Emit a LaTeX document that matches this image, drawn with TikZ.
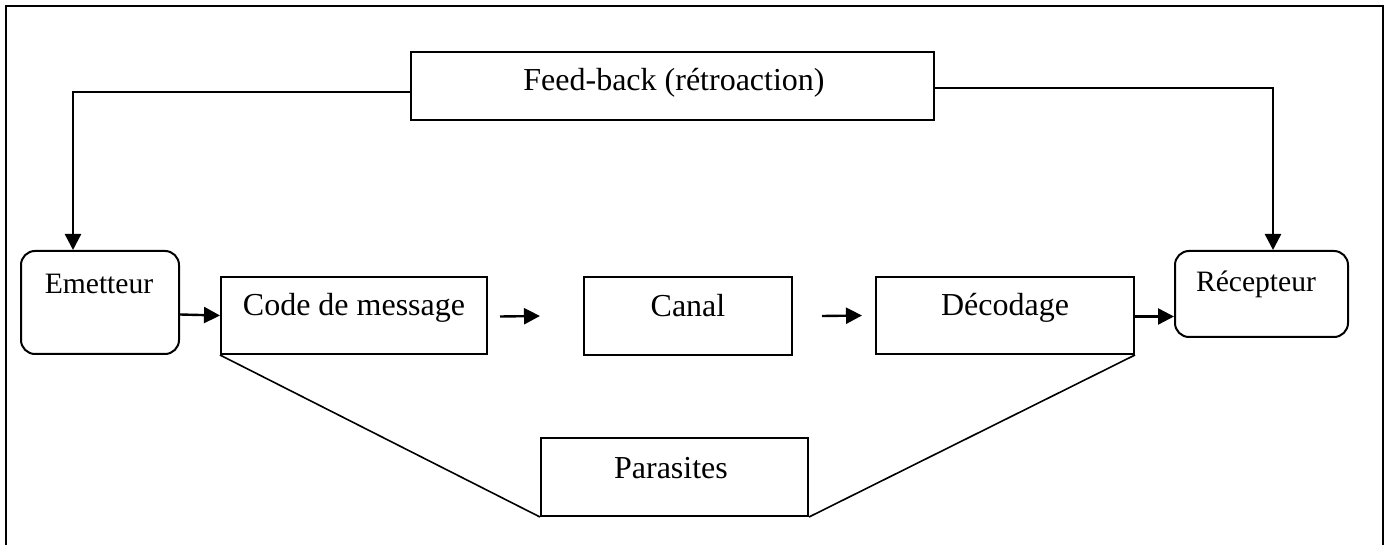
\documentclass[tikz,border=0pt]{standalone}
\usepackage{fontspec}
\setmainfont{Liberation Serif}
\usetikzlibrary{arrows.meta,calc}

\begin{document}
\begin{tikzpicture}[x=0.5pt,y=-0.5pt,
  box/.style={draw,line width=1pt,inner sep=0pt,rectangle},
  roundbox/.style={box,rounded corners=7pt},
  lbl/.style={anchor=base,inner sep=0pt,font=\fontsize{16}{19}\selectfont},
  lblsmall/.style={anchor=base,inner sep=0pt,font=\fontsize{14.8}{17}\selectfont},
  arr/.style={line width=1.2pt,-{Triangle[length=8pt,width=8pt]}},
  wire/.style={line width=0.8pt},
  frame/.style={line width=1.2pt}]

\useasboundingbox (0,0) rectangle (1389,545);

% open frame around the diagram
\draw[frame] (6,545) -- (6,6) -- (1383,6) -- (1383,545);

% boxes
\node[box,minimum width=261.5pt,minimum height=34pt] (fb) at (672.5,86) {};
\node[roundbox,minimum width=79pt,minimum height=51.5pt] (em) at (100,302.5) {};
\node[box,minimum width=133pt,minimum height=38.5pt] (code) at (354,315.5) {};
\node[box,minimum width=104pt,minimum height=39pt] (canal) at (688,316) {};
\node[box,minimum width=129pt,minimum height=38.5pt] (deco) at (1005,315.5) {};
\node[roundbox,minimum width=86.5pt,minimum height=43pt] (rec) at (1261.5,294) {};
\node[box,minimum width=133.5pt,minimum height=39pt] (par) at (674.5,477) {};

% labels
\node[lbl] (tfb) at (674,91) {Feed-back (rétroaction)};
\node[lblsmall] (tem) at (99,294) {Emetteur};
\node[lbl] (tcode) at (354,316) {Code de message};
\node[lbl] (tcanal) at (688,317) {Canal};
\node[lbl] (tdeco) at (1005,316) {Décodage};
\node[lblsmall] (trec) at (1256,292) {Récepteur};
\node[lbl] (tpar) at (671,479) {Parasites};

% main chain
\draw[arr] ([yshift=-6pt]em.east) -- (code.west);
\draw[arr] ([xshift=6pt,yshift=-0.5pt]code.east) -- ([xshift=-21.5pt]canal.west);
\draw[arr] ([xshift=14.5pt]canal.east) -- ([xshift=-6.5pt]deco.west);
\draw[arr] ([yshift=-0.5pt]deco.east) -- ([yshift=-0.5pt]deco.east -| rec.west);

% feed-back loops
\draw[arr] ([yshift=-3pt]fb.west) -| ([xshift=-13.5pt]em.north);
\draw[arr] ([yshift=-1pt]fb.east) -| ([xshift=5.75pt]rec.north);

% noise links
\draw[wire] (code.south west) -- (par.south west);
\draw[wire] (deco.south east) -- (par.south east);

\end{tikzpicture}
\end{document}
